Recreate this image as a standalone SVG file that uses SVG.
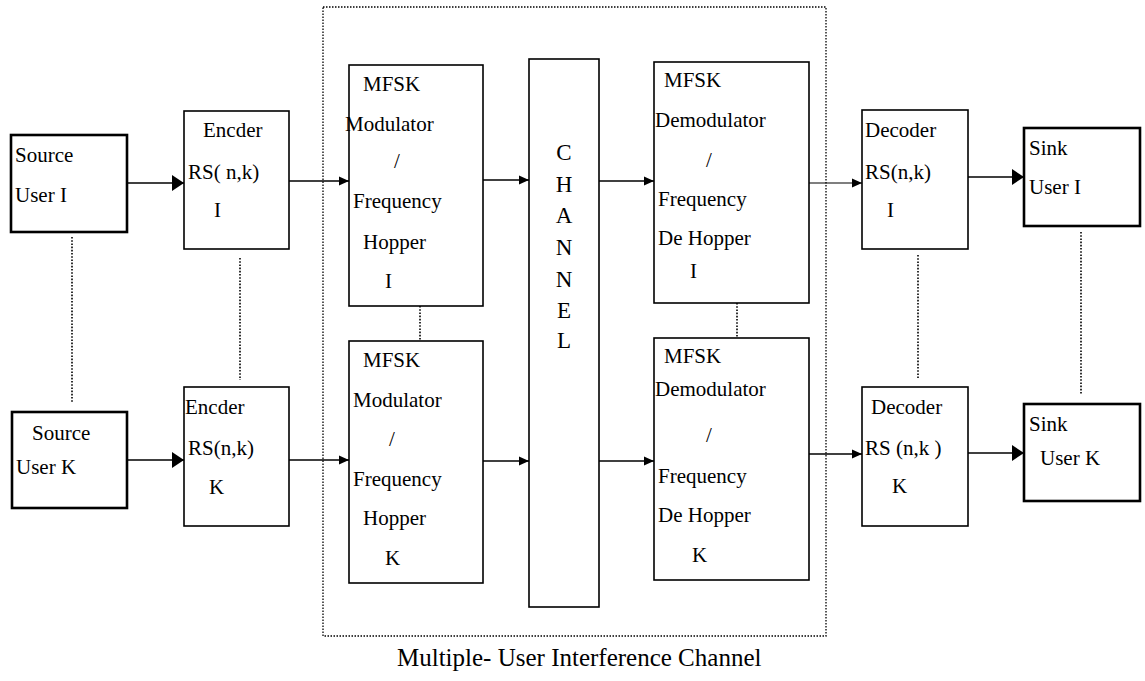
<svg xmlns="http://www.w3.org/2000/svg" width="1145" height="681" viewBox="0 0 1145 681" font-family="'Liberation Serif', 'Times New Roman', Tinos, 'DejaVu Serif', serif">
<style>
text{font-family:'Liberation Serif','Times New Roman',Tinos,'DejaVu Serif',serif;font-size:21px;fill:#000}
.box{fill:#fff;stroke:#000;stroke-width:1.6}
.thick{fill:#fff;stroke:#000;stroke-width:2.6}
.ar{stroke:#000;stroke-width:1.6;fill:none}
.thin{stroke:#000;stroke-width:1.2;fill:none}
.dot{stroke:#000;stroke-width:1.6;stroke-dasharray:1.6 1.6;fill:none}
.ch{font-size:23px;text-anchor:middle}
</style>
<defs>
<marker id="big" markerUnits="userSpaceOnUse" markerWidth="12" markerHeight="16" refX="12" refY="8" orient="auto"><path d="M0,0 L12,8 L0,16 z" fill="#000"/></marker>
<marker id="sm" markerUnits="userSpaceOnUse" markerWidth="10" markerHeight="10" refX="10" refY="5" orient="auto"><path d="M0,0.5 L10,5 L0,9.5 z" fill="#000"/></marker>
</defs>
<rect x="323" y="7" width="503" height="629" fill="none" stroke="#000" stroke-width="1.3" stroke-dasharray="1.5 1.5"/>
<g id="connectors">
<line class="ar" x1="127" y1="183" x2="184" y2="183" marker-end="url(#big)"/>
<line class="ar" x1="289" y1="181" x2="349" y2="181" marker-end="url(#sm)"/>
<line class="ar" x1="483" y1="180" x2="529" y2="180" marker-end="url(#sm)"/>
<line class="ar" x1="599" y1="181" x2="654" y2="181" marker-end="url(#sm)"/>
<line class="thin" x1="809" y1="183" x2="862" y2="183" marker-end="url(#sm)"/>
<line class="ar" x1="968" y1="177" x2="1024" y2="177" marker-end="url(#big)"/>
<line class="ar" x1="127" y1="460" x2="184" y2="460" marker-end="url(#big)"/>
<line class="ar" x1="289" y1="460" x2="349" y2="460" marker-end="url(#sm)"/>
<line class="ar" x1="483" y1="461" x2="529" y2="461" marker-end="url(#sm)"/>
<line class="ar" x1="599" y1="461" x2="654" y2="461" marker-end="url(#sm)"/>
<line class="ar" x1="809" y1="454" x2="862" y2="454" marker-end="url(#sm)"/>
<line class="ar" x1="968" y1="453" x2="1024" y2="453" marker-end="url(#big)"/>
<line class="dot" x1="72" y1="237" x2="72" y2="403"/>
<line class="dot" x1="240" y1="258" x2="240" y2="380"/>
<line class="dot" x1="420" y1="306" x2="420" y2="341"/>
<line class="dot" x1="737" y1="303" x2="737" y2="338"/>
<line class="dot" x1="918" y1="255" x2="918" y2="378"/>
<line class="dot" x1="1081" y1="232" x2="1081" y2="395"/>
</g>
<g id="sourceI"><rect class="thick" x="11" y="135" width="116" height="97"/><text x="15" y="162">Source</text><text x="15" y="202">User I</text></g>
<g id="sourceK"><rect class="thick" x="12" y="412" width="115" height="96"/><text x="32" y="440">Source</text><text x="16" y="474">User K</text></g>
<g id="encoderI"><rect class="box" x="184" y="111" width="105" height="138"/><text x="203" y="137">Encder</text><text x="188" y="179">RS( n,k)</text><text x="214" y="217">I</text></g>
<g id="encoderK"><rect class="box" x="184" y="387" width="105" height="139"/><text x="185" y="414">Encder</text><text x="188" y="455">RS(n,k)</text><text x="209" y="494">K</text></g>
<g id="modI"><rect class="box" x="349" y="65" width="134" height="241"/><text x="363" y="91">MFSK</text><text x="345" y="131">Modulator</text><text x="394" y="168">/</text><text x="353" y="208">Frequency</text><text x="363" y="249">Hopper</text><text x="385" y="288">I</text></g>
<g id="modK"><rect class="box" x="349" y="341" width="134" height="242"/><text x="363" y="367">MFSK</text><text x="353" y="407">Modulator</text><text x="389" y="446">/</text><text x="353" y="486">Frequency</text><text x="363" y="525">Hopper</text><text x="385" y="565">K</text></g>
<g id="channel"><rect class="box" x="529" y="59" width="70" height="548"/>
<text class="ch" x="564" y="160">C</text><text class="ch" x="564" y="192">H</text><text class="ch" x="564" y="223">A</text><text class="ch" x="564" y="255">N</text><text class="ch" x="564" y="287">N</text><text class="ch" x="564" y="318">E</text><text class="ch" x="564" y="348">L</text></g>
<g id="demodI"><rect class="box" x="654" y="62" width="155" height="241"/><text x="664" y="87">MFSK</text><text x="655" y="127">Demodulator</text><text x="706" y="167">/</text><text x="658" y="206">Frequency</text><text x="658" y="245">De Hopper</text><text x="690" y="278">I</text></g>
<g id="demodK"><rect class="box" x="654" y="338" width="155" height="242"/><text x="664" y="363">MFSK</text><text x="655" y="396">Demodulator</text><text x="706" y="442">/</text><text x="658" y="483">Frequency</text><text x="658" y="522">De Hopper</text><text x="692" y="562">K</text></g>
<g id="decoderI"><rect class="box" x="862" y="110" width="106" height="139"/><text x="865" y="137">Decoder</text><text x="865" y="179">RS(n,k)</text><text x="887" y="217">I</text></g>
<g id="decoderK"><rect class="box" x="862" y="387" width="106" height="139"/><text x="871" y="414">Decoder</text><text x="865" y="455">RS (n,k )</text><text x="892" y="493">K</text></g>
<g id="sinkI"><rect class="thick" x="1024" y="128" width="116" height="98"/><text x="1029" y="155">Sink</text><text x="1029" y="194">User I</text></g>
<g id="sinkK"><rect class="thick" x="1024" y="404" width="116" height="97"/><text x="1029" y="431">Sink</text><text x="1040" y="465">User K</text></g>
<text x="397" y="666" style="font-size:25px">Multiple- User Interference Channel</text>
</svg>
